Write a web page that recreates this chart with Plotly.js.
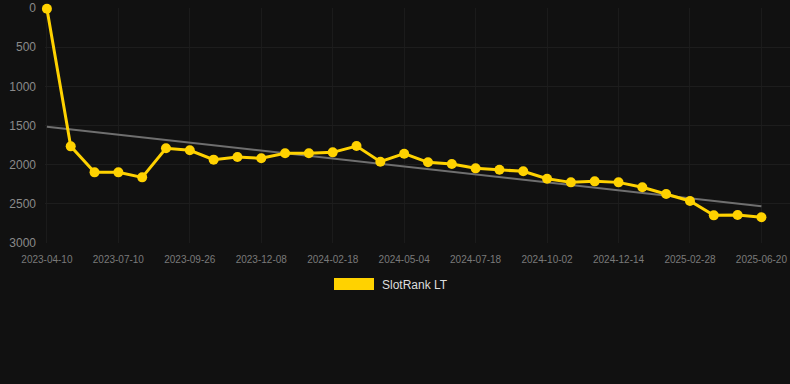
<!DOCTYPE html>
<html>
<head>
<meta charset="utf-8">
<script src="https://cdn.plot.ly/plotly-3.0.1.min.js"></script>
<style>
html,body{margin:0;padding:0;background:#111111;}
#chart{width:790px;height:384px;}
</style>
</head>
<body>
<div id="chart"></div>
<script>
// Tick labels shown on the x axis (every third observation)
var tickLabels = ["2023-04-10","2023-07-10","2023-09-26","2023-12-08","2024-02-18","2024-05-04","2024-07-18","2024-10-02","2024-12-14","2025-02-28","2025-06-20"];
var tickIndex = [0,3,6,9,12,15,18,21,24,27,30];
// Observation index (31 observations)
var obsIndex = [0,1,2,3,4,5,6,7,8,9,10,11,12,13,14,15,16,17,18,19,20,21,22,23,24,25,26,27,28,29,30];
// SlotRank LT values (lower rank shown at top)
var rankValues = [10,1766,2098,2098,2162,1791,1817,1936,1902,1919,1855,1855,1843,1762,1962,1860,1970,1991,2047,2064,2085,2179,2226,2213,2226,2289,2374,2464,2647,2643,2672];
// Trend line end points
var trendIndex = [0,30];
var trendValues = [1515,2530];
var seriesName = "SlotRank LT";

var traces = [
  {
    x: trendIndex, y: trendValues, type: "scatter", mode: "lines",
    line: {color: "#6f6f6f", width: 2}, hoverinfo: "skip", showlegend: false
  },
  {
    x: obsIndex, y: rankValues, type: "scatter", mode: "lines+markers",
    name: seriesName,
    line: {color: "#FFD200", width: 3},
    marker: {color: "#FFD200", size: 10},
    cliponaxis: false, showlegend: false
  }
];

var layout = {
  width: 790, height: 384,
  paper_bgcolor: "#111111", plot_bgcolor: "#111111",
  margin: {l: 45, r: 0, t: 8, b: 141},
  showlegend: false,
  xaxis: {
    range: [-0.08, 31.2],
    tickmode: "array", tickvals: tickIndex, ticktext: tickLabels,
    showgrid: true, gridcolor: "#1b1b1b", gridwidth: 1,
    zeroline: false, showline: false, ticks: "",
    tickfont: {family: "Liberation Sans, Arial, sans-serif", size: 10, color: "#7a7a7a"},
    ticklabelstandoff: 9
  },
  yaxis: {
    range: [3000, 0],
    tickvals: [0,500,1000,1500,2000,2500,3000],
    showgrid: true, gridcolor: "#1d1d1d", gridwidth: 1,
    zeroline: false, showline: false, ticks: "",
    tickfont: {family: "Liberation Sans, Arial, sans-serif", size: 12, color: "#8a8a8a"},
    ticklabelstandoff: 8
  },
  shapes: [
    {type: "rect", xref: "paper", yref: "paper",
     x0: (334-45)/745, x1: (374-45)/745, y0: (235-(290-8))/235, y1: (235-(278-8))/235,
     fillcolor: "#FFD200", line: {width: 0}}
  ],
  annotations: [
    {xref: "paper", yref: "paper", x: (380-45)/745, y: (235-(285-8))/235,
     xanchor: "left", yanchor: "middle", showarrow: false, text: seriesName,
     font: {family: "Liberation Sans, Arial, sans-serif", size: 12, color: "#dddddd"}}
  ]
};

Plotly.newPlot("chart", traces, layout, {displayModeBar: false, staticPlot: true});
</script>
</body>
</html>
